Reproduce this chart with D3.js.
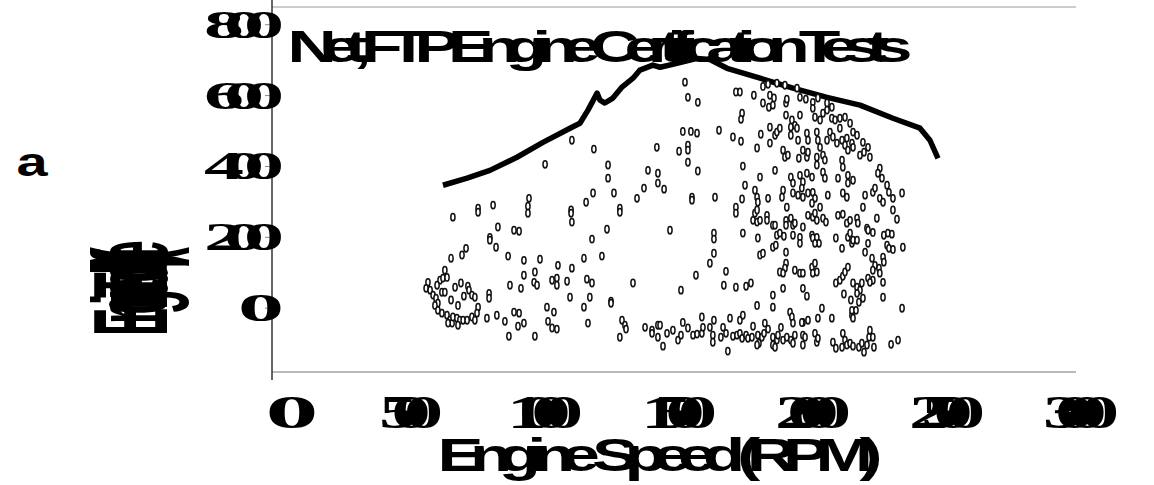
<!DOCTYPE html>
<html>
<head>
<meta charset="utf-8">
<script src="https://cdn.jsdelivr.net/npm/d3@7"></script>
<style>
  html, body { margin: 0; padding: 0; background: #fff; }
  svg { display: block; }
</style>
</head>
<body>
<svg id="chart" width="1154" height="485"></svg>
<script>
// --- DATA ---
const chartTitle = "Net, FTP Engine Certification Tests";
const xTitle = "Engine Speed (RPM)";
const yTitle = "Engine Torque (ft-lb)";
const xTicks = [0, 500, 1000, 1500, 2000, 2500, 3000];
const yTicks = [0, 200, 400, 600, 800];

// full load (lug) curve
const curveRpm = [638, 728, 813, 914, 1011, 1112, 1149, 1179, 1213, 1224, 1242, 1272, 1306, 1347, 1373, 1421, 1448, 1511, 1586, 1634, 1698, 1821, 1944, 2071, 2194, 2317, 2418, 2455, 2485];
const curveTorque = [347, 367, 389, 426, 468, 508, 522, 559, 607, 587, 579, 593, 624, 649, 672, 686, 680, 691, 705, 702, 677, 649, 621, 595, 573, 536, 508, 474, 423];

// test points
const testRpm = [
  1119, 1201, 1019, 1254, 1436, 1403, 1440, 1254, 1440, 1198, 1276, 1172, 1362, 1388, 959, 955, 825, 769, 1298, 1116,
  1541, 1552, 1589, 1731, 1746, 1798, 1832, 1851, 1884, 1914, 1959, 1858, 1873, 1832, 1854, 1869, 1918, 1921, 1970, 1992,
  2018, 2037, 2071, 2089, 1754, 1750, 1918, 1940, 1951, 1970, 2018, 2026, 2045, 2056, 2071, 2089, 2101, 2119, 2138, 2157,
  1936, 1959, 2168, 1533, 1563, 1586, 1668, 1720, 1750, 1824, 1858, 1858, 1877, 1884, 1895, 1936, 1963, 1996, 2000, 2033,
  2037, 2045, 2071, 2082, 2093, 2108, 2119, 2127, 2138, 2145, 2149, 2164, 2168, 2183, 2194, 2205, 2209, 2224, 2231, 1519,
  1552, 1552, 1552, 1589, 1810, 1907, 1914, 1925, 1966, 1981, 1996, 2000, 2033, 2056, 2063, 2033, 2127, 2130, 1757, 1877,
  1821, 1936, 1944, 1970, 1981, 1996, 2015, 2056, 2063, 2112, 2149, 2168, 2149, 2268, 2261, 2276, 2242, 2250, 2295, 2302,
  2351, 2268, 2280, 2317, 2213, 1463, 1567, 1567, 1653, 1765, 1802, 1810, 1754, 1851, 1907, 1903, 1944, 1963, 1977, 1981,
  2000, 2018, 2026, 2074, 2130, 2145, 2205, 2045, 2015, 1921, 1813, 1731,
  675, 769, 955, 1116, 1119, 1298, 843, 903, 922, 813, 813, 836, 1194, 1250, 724, 709, 668, 881, 940, 1000,
  1067, 1119, 1164, 1231, 645, 627, 638, 653, 705, 683, 731, 735, 582, 575, 590, 601, 612, 619, 608, 634,
  645, 668, 716, 746, 757, 810, 810, 888, 929, 981, 940, 978, 989, 1045, 1063, 1063, 1101, 1175, 1194, 1347,
  1112, 1186, 1265, 1265, 1164, 1026, 1052, 769, 694, 619, 634, 653, 664, 672, 657, 675, 690, 701, 694, 713,
  728, 746, 757, 765, 802, 839, 869, 903, 922, 918, 940, 1030, 1045, 1063, 1179, 884, 981, 1306, 1317, 1321,
  1298, 1392, 1418, 1418, 1440, 1440, 616,
  1485, 1649, 1649, 1757, 1813, 1731, 1795, 1810, 1821, 1802, 1810, 1847, 1847, 1869, 1877, 1884, 1895, 1910, 1918, 1918,
  1936, 1944, 1951, 1944, 1970, 1970, 1981, 2000, 2018, 2026, 2033, 2056, 2067, 2015, 2018, 2033, 2041, 2026, 2112, 2130,
  2145, 2157, 2183, 2186, 2149, 2157, 2164, 2168, 2104, 2127, 2183, 2220, 2224, 2242, 2257, 2317, 2332, 2283, 2298, 2313,
  2295, 2302, 2317, 2354, 2213, 2224, 2239, 2250, 2265, 2268, 2280, 2283, 2242, 1869, 1880, 1821, 1832, 1918, 1918, 1914,
  1895, 1907, 1951, 1970, 1981, 2015, 2018, 2033, 2026, 1649, 1634, 1582, 1694, 1686, 1731, 1769, 1787, 1526, 1907, 1981,
  1996, 1869, 1869, 1810, 2104, 2119, 2130, 2138, 2149, 2134, 2168, 2183, 2194, 2201, 2183, 2160, 2190, 2205, 2224, 2242,
  2231, 2280, 2280, 2351, 2052, 2089, 2037, 2000, 1981, 1933, 1940, 1944, 2164, 2168, 2164, 2179, 1448, 1474, 1496, 1515,
  1526, 1533, 1552, 1571, 1586, 1604, 1608, 1604, 1459, 1634, 1645, 1649, 1645, 1675, 1683, 1694, 1709, 1720, 1735, 1746,
  1746, 1757, 1754, 1769, 1776, 1791, 1795, 1813, 1817, 1828, 1839, 1851, 1836, 1701, 1810, 1869, 1884, 1888, 1899, 1907,
  1921, 1936, 1944, 1951, 1977, 1981, 1989, 1981, 2026, 2033, 2037, 2093, 2104, 2127, 2130, 2138, 2145, 2157, 2168, 2190,
  2201, 2209, 2220, 2228, 2231, 2242, 2246, 2310, 2336, 1869, 1877
];
const testTorque = [
  474, 449, 406, 404, 454, 389, 381, 367, 353, 325, 325, 299, 310, 339, 310, 288, 291, 282, 282, 277,
  638, 595, 581, 610, 610, 601, 626, 632, 635, 629, 621, 601, 593, 579, 567, 573, 579, 590, 595, 590,
  581, 593, 579, 567, 550, 533, 545, 531, 516, 545, 564, 539, 531, 550, 559, 536, 531, 536, 539, 522,
  511, 508, 497, 499, 499, 494, 502, 483, 471, 491, 511, 466, 488, 497, 508, 488, 474, 494, 474, 497,
  474, 454, 474, 497, 483, 466, 508, 474, 460, 480, 446, 466, 454, 488, 432, 468, 440, 454, 426, 443,
  460, 446, 412, 387, 452, 446, 426, 432, 423, 446, 426, 440, 426, 432, 418, 404, 418, 398, 401, 389,
  370, 370, 353, 375, 356, 381, 370, 384, 367, 367, 375, 361, 353, 395, 381, 367, 327, 339, 347, 327,
  325, 310, 299, 310, 319, 336, 313, 305, 313, 347, 333, 313, 308, 310, 333, 313, 325, 319, 339, 313,
  325, 327, 310, 319, 325, 313, 285, 285, 296, 285, 299, 285,
  257, 271, 268, 268, 243, 271, 229, 220, 217, 200, 192, 172, 195, 223, 169, 150, 141, 147, 135, 138,
  121, 113, 141, 147, 107, 79, 85, 87, 71, 59, 62, 51, 73, 56, 51, 37, 28, 14, 8, 45,
  45, 23, 34, 37, 31, 42, 28, 65, 56, 102, 93, 73, 65, 79, 85, 65, 76, 82, 71, 71,
  31, 31, 20, 14, 3, 3, -11, 3, 8, -6, -14, -20, -34, -42, -42, -25, -28, -34, -48, -34,
  -34, -25, -34, -14, -28, -20, -37, -11, -14, -51, -42, -37, -56, -59, -42, -79, -79, -34, -48, -59,
  -82, -54, -62, -71, -48, -82, 65,
  220, 212, 195, 212, 198, 268, 248, 243, 248, 268, 277, 262, 248, 234, 234, 206, 212, 203, 248, 234,
  254, 234, 240, 206, 200, 183, 229, 262, 257, 268, 248, 254, 243, 206, 198, 200, 183, 183, 262, 265,
  240, 248, 254, 240, 200, 212, 183, 192, 198, 169, 192, 226, 220, 214, 254, 277, 251, 206, 212, 209,
  178, 169, 166, 172, 158, 183, 141, 121, 113, 99, 144, 130, 107, 172, 178, 150, 155, 158, 127, 113,
  102, 99, 107, 99, 99, 116, 99, 102, 127, 155, 127, 93, 104, 65, 59, 62, 71, 51, 56, 56,
  34, 37, 3, 8, 71, 79, 90, 102, 116, 40, 71, 59, 51, 71, 42, 23, 17, 28, 85, 79,
  73, 73, 31, 0, 0, -28, -28, -34, -40, -11, -25, -42, -20, -28, -6, -6, -48, -71, -62, -90,
  -76, -40, -56, -76, -73, -71, -54, -25, -107, -54, -76, -34, -96, -82, -54, -71, -28, -79, -76, -71,
  -34, -20, -85, -76, -85, -82, -51, -76, -99, -82, -42, -59, -71, -121, -104, -82, -90, -76, -54, -90,
  -82, -90, -99, -76, -40, -76, -82, -104, -71, -96, -85, -96, -113, -110, -71, -90, -104, -99, -107, -110,
  -99, -124, -104, -82, -62, -82, -110, -102, -90, -104, -110
];

// --- SETUP ---
const svg = d3.select("#chart");
const x = d3.scaleLinear().domain([0, 3000]).range([272, 1076]);
const y = d3.scaleLinear().domain([-180, 850]).range([372, 7]);

// squeezed text: glyphs stretched by sx, total advance forced to len
function squeezed(g, str, opts) {
  const sx = opts.sx || 1;
  const t = g.append("g")
    .attr("transform", `translate(${opts.x},${opts.y}) rotate(${opts.rotate || 0}) scale(${sx},1)`);
  t.append("text")
    .attr("text-anchor", opts.anchor || "middle")
    .attr("font-family", opts.family || "'Liberation Sans', Arial, sans-serif")
    .attr("font-weight", "bold")
    .attr("font-size", opts.size)
    .attr("textLength", opts.len / sx)
    .attr("lengthAdjust", "spacing")
    .attr("fill", "#000")
    .text(str);
}

const serif = "'Liberation Serif', 'Times New Roman', serif";

// --- FRAME ---
svg.append("line")
  .attr("x1", x(0)).attr("x2", x(3000))
  .attr("y1", y(850)).attr("y2", y(850))
  .attr("stroke", "#999").attr("stroke-width", 1);

svg.append("line")
  .attr("x1", x(0)).attr("x2", x(3000))
  .attr("y1", y(-180)).attr("y2", y(-180))
  .attr("stroke", "#777").attr("stroke-width", 1.2);

svg.append("line")
  .attr("x1", x(0)).attr("x2", x(0))
  .attr("y1", 0).attr("y2", 380)
  .attr("stroke", "#333").attr("stroke-width", 1.5);

svg.append("g")
  .selectAll("line")
  .data(yTicks)
  .enter()
  .append("line")
  .attr("x1", x(0) - 7).attr("x2", x(0))
  .attr("y1", d => y(d)).attr("y2", d => y(d))
  .attr("stroke", "#888");

// --- TICK LABELS ---
const tickG = svg.append("g");
yTicks.forEach(v => {
  const s = String(v);
  const one = s.length === 1;
  squeezed(tickG, s, {
    x: 284, y: y(v) + 13, sx: one ? 2.3 : 2.0, anchor: "end",
    family: serif, size: 40, len: one ? 46 : 80
  });
});
xTicks.forEach(v => {
  const s = String(v);
  const one = s.length === 1;
  squeezed(tickG, s, {
    x: x(v) + (one ? 20 : 5), y: 428, sx: one ? 2.3 : 1.7,
    family: serif, size: 46, len: one ? 46 : (s.length === 3 ? 64 : 76)
  });
});

// --- TITLES ---
squeezed(svg, chartTitle, { x: 600, y: 62, size: 44, len: 625, sx: 1.55 });
squeezed(svg, xTitle, { x: 660, y: 471, size: 46, len: 445, sx: 1.5 });
squeezed(svg, yTitle, { x: 167, y: 288, rotate: -90, size: 105, len: 84, sx: 0.4 });
squeezed(svg, "a", { x: 32, y: 176, size: 40, len: 40, sx: 1.4 });

// --- LUG CURVE ---
const curve = curveRpm.map((r, i) => ({ rpm: r, tq: curveTorque[i] }));
svg.append("path")
  .datum(curve)
  .attr("fill", "none")
  .attr("stroke", "#000")
  .attr("stroke-width", 5.5)
  .attr("stroke-linejoin", "round")
  .attr("d", d3.line().x(d => x(d.rpm)).y(d => y(d.tq)));

// --- TEST POINTS ---
const pts = testRpm.map((r, i) => ({ rpm: r, tq: testTorque[i] }));
svg.append("g")
  .selectAll("ellipse")
  .data(pts)
  .enter()
  .append("ellipse")
  .attr("cx", d => x(d.rpm))
  .attr("cy", d => y(d.tq))
  .attr("rx", 2.1)
  .attr("ry", 3.7)
  .attr("fill", "#fff")
  .attr("stroke", "#111")
  .attr("stroke-width", 1.5);
</script>
</body>
</html>
